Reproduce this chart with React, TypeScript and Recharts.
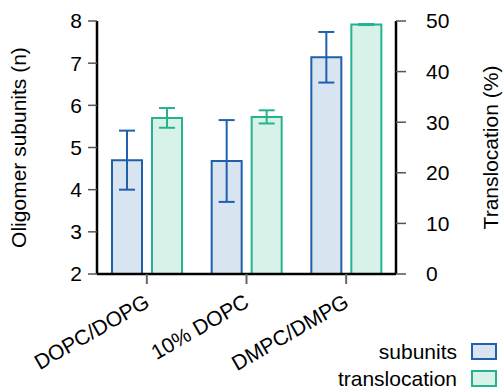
import React from "react"
import { BarChart, Bar, XAxis, YAxis, ErrorBar } from "recharts"

const categories = ["DOPC/DOPG", "10% DOPC", "DMPC/DMPG"]
const subunits = [4.7, 4.68, 7.14]
const subunitsErr = [0.7, 0.97, 0.6]
const translocation = [30.85, 31.05, 49.3]
const translocationErr = [1.95, 1.3, 0.1]
const leftTicks = [2, 3, 4, 5, 6, 7, 8]
const rightTicks = [0, 10, 20, 30, 40, 50]

const BLUE = "#1f5fae"
const BLUE_FILL = "#d9e4f1"
const GREEN = "#25b38f"
const GREEN_FILL = "#d8f1e9"
const FONT = "'Liberation Sans', Arial, sans-serif"

const data = categories.map((name, i) => ({
  name,
  subunits: subunits[i],
  subunitsErr: subunitsErr[i],
  translocation: translocation[i],
  translocationErr: translocationErr[i],
}))

function CategoryTick(props: any) {
  const { x, payload } = props
  return (
    <text
      x={x + 4}
      y={306}
      transform={`rotate(-30, ${x + 4}, 306)`}
      textAnchor="end"
      fontSize={21}
      fill="#000"
    >
      {payload.value}
    </text>
  )
}

function LegendBox() {
  const rows = [
    { label: "subunits", stroke: BLUE, fill: BLUE_FILL },
    { label: "translocation", stroke: GREEN, fill: GREEN_FILL },
  ]
  return (
    <div
      style={{
        position: "absolute",
        right: 7,
        top: 338,
        fontFamily: FONT,
        fontSize: 21,
        color: "#000",
        lineHeight: "27px",
      }}
    >
      {rows.map((r) => (
        <div
          key={r.label}
          style={{
            display: "flex",
            justifyContent: "flex-end",
            alignItems: "center",
            height: 27,
          }}
        >
          <span style={{ marginRight: 14 }}>{r.label}</span>
          <span
            style={{
              display: "inline-block",
              width: 22,
              height: 13,
              background: r.fill,
              border: `2px solid ${r.stroke}`,
            }}
          />
        </div>
      ))}
    </div>
  )
}

export default function App() {
  return (
    <div
      style={{
        position: "absolute",
        left: 0,
        top: 0,
        width: 504,
        height: 390,
        fontFamily: FONT,
      }}
    >
      <BarChart
        width={504}
        height={390}
        data={data}
        margin={{ top: 21, right: 0, bottom: 0, left: 0 }}
        barSize={30}
        barGap={10}
        style={{ fontFamily: FONT }}
      >
        <XAxis
          dataKey="name"
          height={116}
          tickSize={10}
          tick={<CategoryTick />}
          tickLine={{ stroke: "#666", strokeWidth: 2 }}
          axisLine={{ stroke: "#000", strokeWidth: 2.5 }}
          interval={0}
        />
        <YAxis
          yAxisId="left"
          orientation="left"
          width={97}
          domain={[2, 8]}
          ticks={leftTicks}
          tickSize={9}
          tickMargin={6}
          tick={{ fill: "#000", fontSize: 21 }}
          tickLine={{ stroke: "#555", strokeWidth: 1.5 }}
          axisLine={{ stroke: "#000", strokeWidth: 2.5 }}
          allowDataOverflow
          label={{
            value: "Oligomer subunits (n)",
            angle: -90,
            position: "insideLeft",
            offset: 19,
            style: { textAnchor: "middle", fill: "#000", fontSize: 21 },
          }}
        />
        <YAxis
          yAxisId="right"
          orientation="right"
          width={108}
          domain={[0, 50]}
          ticks={rightTicks}
          tickSize={10}
          tickMargin={20}
          tick={{ fill: "#000", fontSize: 21 }}
          tickLine={{ stroke: "#555", strokeWidth: 1.5 }}
          axisLine={{ stroke: "#000", strokeWidth: 2.5 }}
          label={{
            value: "Translocation (%)",
            angle: -90,
            position: "insideRight",
            offset: 13,
            style: { textAnchor: "middle", fill: "#000", fontSize: 21 },
          }}
        />
        <Bar
          yAxisId="left"
          dataKey="subunits"
          fill={BLUE_FILL}
          stroke={BLUE}
          strokeWidth={2}
          isAnimationActive={false}
        >
          <ErrorBar
            dataKey="subunitsErr"
            width={8}
            stroke={BLUE}
            strokeWidth={2}
            direction="y"
            isAnimationActive={false}
          />
        </Bar>
        <Bar
          yAxisId="right"
          dataKey="translocation"
          fill={GREEN_FILL}
          stroke={GREEN}
          strokeWidth={2}
          isAnimationActive={false}
        >
          <ErrorBar
            dataKey="translocationErr"
            width={8}
            stroke={GREEN}
            strokeWidth={2}
            direction="y"
            isAnimationActive={false}
          />
        </Bar>
      </BarChart>
      <LegendBox />
    </div>
  )
}
